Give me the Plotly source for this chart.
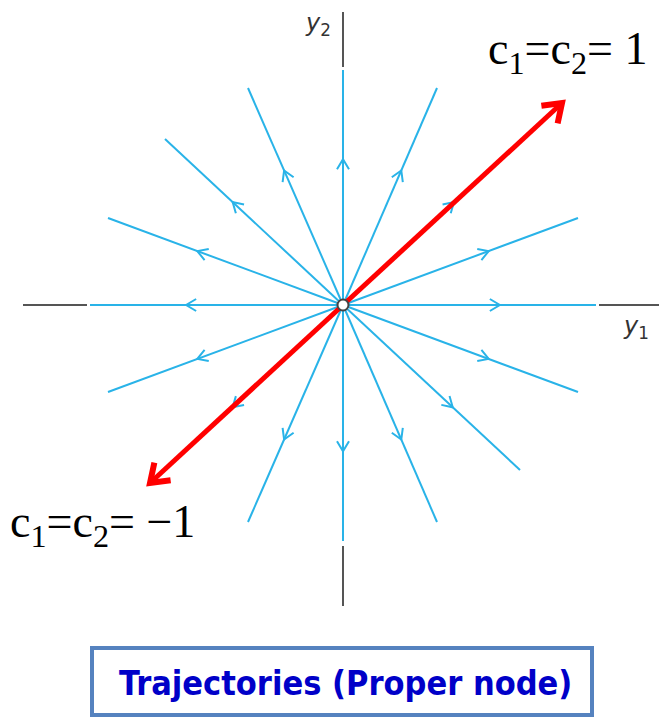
import math
import plotly.graph_objects as go

# Ray end points (y1, y2) of the trajectories through the proper node
ray_end_y1 = [2.53, 2.35, 1.79, 0.94, 0.00, -0.95, -1.78, -2.35,
              -2.53, -2.35, -1.78, -0.95, 0.00, 0.94, 1.77, 2.35]
ray_end_y2 = [0.00, 0.87, 1.66, 2.17, 2.35, 2.17, 1.66, 0.87,
              0.00, -0.87, -1.65, -2.17, -2.36, -2.17, -1.65, -0.87]
arrow_fraction = 0.62   # position of the direction arrow along each ray

# Highlighted trajectories c1 = c2 = 1 and c1 = c2 = -1
red_end_y1 = [2.19, -1.93]
red_end_y2 = [2.02, -1.78]
red_labels = ["c<sub>1</sub>=c<sub>2</sub>= 1",
              "c<sub>1</sub>=c<sub>2</sub>= \u22121"]

# Axis stubs (black) beyond the rays
axis_h_segments = [(-3.20, -2.56), (2.56, 3.16)]
axis_v_segments = [(2.38, 2.93), (-2.41, -3.01)]

title_text = "Trajectories (Proper node)"

BLUE = "#29b3e8"
RED = "#ff0000"
AXC = "#555555"

fig = go.Figure()

def chevron(tx, ty, ux, uy, length, half_w):
    # tip at (tx,ty), direction unit (ux,uy)
    bx, by = tx - ux * length, ty - uy * length
    px, py = -uy, ux
    return ([bx + px * half_w, tx, bx - px * half_w],
            [by + py * half_w, ty, by - py * half_w])

# axis stubs
for a, b in axis_h_segments:
    fig.add_trace(go.Scatter(x=[a, b], y=[0, 0], mode="lines",
                             line=dict(color=AXC, width=2), hoverinfo="skip"))
for a, b in axis_v_segments:
    fig.add_trace(go.Scatter(x=[0, 0], y=[a, b], mode="lines",
                             line=dict(color=AXC, width=2), hoverinfo="skip"))

# blue rays with arrows
for ex, ey in zip(ray_end_y1, ray_end_y2):
    fig.add_trace(go.Scatter(x=[0, ex], y=[0, ey], mode="lines",
                             line=dict(color=BLUE, width=2), hoverinfo="skip"))
    L = math.hypot(ex, ey)
    ux, uy = ex / L, ey / L
    tx, ty = ex * arrow_fraction, ey * arrow_fraction
    cx, cy = chevron(tx, ty, ux, uy, 0.10, 0.06)
    fig.add_trace(go.Scatter(x=cx, y=cy, mode="lines",
                             line=dict(color=BLUE, width=2), hoverinfo="skip"))

# red trajectories
for ex, ey in zip(red_end_y1, red_end_y2):
    L = math.hypot(ex, ey)
    ux, uy = ex / L, ey / L
    fig.add_trace(go.Scatter(x=[0, ex - ux * 0.03], y=[0, ey - uy * 0.03], mode="lines",
                             line=dict(color=RED, width=5), hoverinfo="skip"))
    cx, cy = chevron(ex, ey, ux, uy, 0.17, 0.12)
    fig.add_trace(go.Scatter(x=cx, y=cy, mode="lines",
                             line=dict(color=RED, width=6), hoverinfo="skip"))

# node at origin
fig.add_trace(go.Scatter(x=[0], y=[0], mode="markers",
                         marker=dict(size=11, color="white",
                                     line=dict(color="#444444", width=2)),
                         hoverinfo="skip"))

annotations = [
    dict(x=-0.25, y=2.81, text="<i>y</i><sub>2</sub>", showarrow=False,
         font=dict(family="DejaVu Sans", size=24, color="#333333")),
    dict(x=2.93, y=-0.22, text="<i>y</i><sub>1</sub>", showarrow=False,
         font=dict(family="DejaVu Sans", size=24, color="#333333")),
    dict(x=2.24, y=2.53, text=red_labels[0], showarrow=False,
         font=dict(family="Liberation Serif", size=46, color="black")),
    dict(x=-2.41, y=-2.20, text=red_labels[1], showarrow=False,
         font=dict(family="Liberation Serif", size=46, color="black")),
    dict(x=0.02, y=-3.78, text="<b>" + title_text + "</b>", showarrow=False,
         font=dict(family="DejaVu Sans Condensed", size=34, color="#0000c8")),
]

fig.add_shape(type="rect", x0=-2.51, x1=2.49, y0=-3.43, y1=-4.10,
              line=dict(color="#5582bf", width=4), fillcolor="white", layer="below")

fig.update_layout(
    width=664, height=721, autosize=False,
    margin=dict(l=0, r=0, t=0, b=0),
    paper_bgcolor="white", plot_bgcolor="white",
    showlegend=False,
    xaxis=dict(range=[-3.43, 3.21], visible=False, fixedrange=True),
    yaxis=dict(range=[-4.16, 3.05], visible=False, fixedrange=True),
    annotations=annotations,
)

fig.write_html("out.html", post_script="document.body.style.margin='0';",
               config={"displayModeBar": False})
